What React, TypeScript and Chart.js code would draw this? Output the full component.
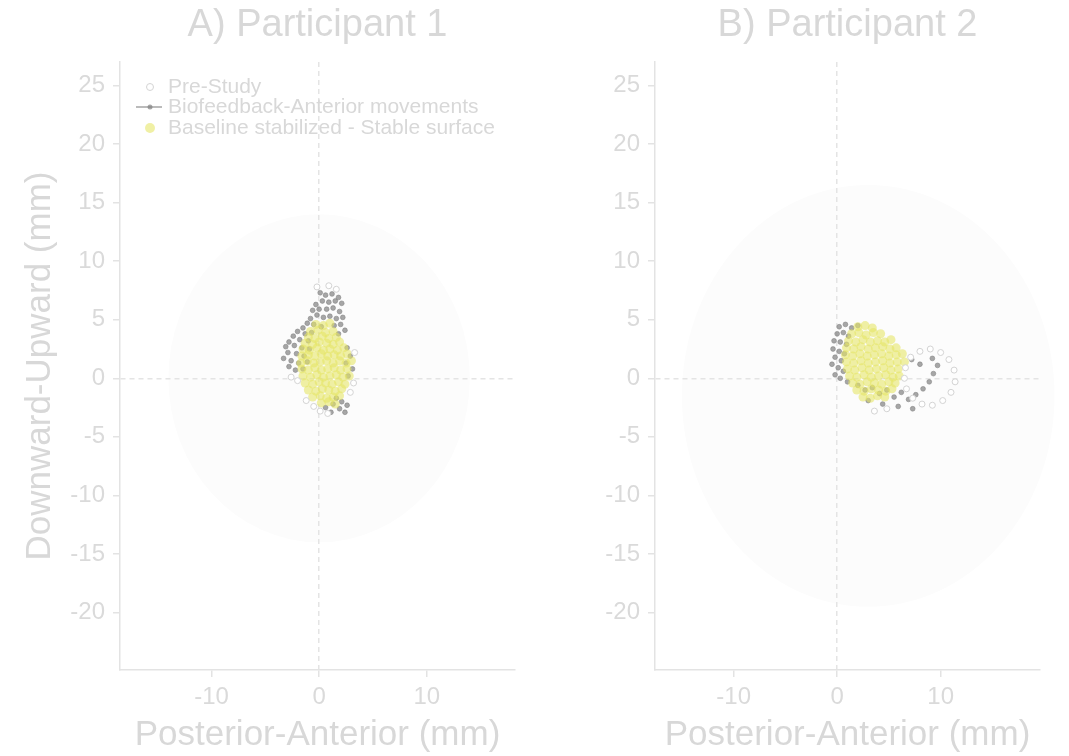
import React, { useEffect, useRef } from "react";
import { Chart, registerables } from "chart.js";
Chart.register(...registerables);

// ---------- text ----------
const panelTitles = ["A) Participant 1", "B) Participant 2"];
const xAxisTitle = "Posterior-Anterior (mm)";
const yAxisTitle = "Downward-Upward (mm)";
const seriesNames = ["Pre-Study", "Biofeedback-Anterior movements", "Baseline stabilized - Stable surface"];

// ---------- axes ----------
const yRange = [-24.9, 27];
const yStep = 5;
const xStep = 10;
const xRangeP1 = [-18.5, 18.2];
const xRangeP2 = [-17.6, 19.6];

// faint reference circles: [centerX, centerY, radius] in mm
const circleP1 = [0, 0, 14];
const circleP2 = [3, -1.5, 18];

// ---------- Participant 1 ----------
const p1PreStudy: [number, number][] = [
  [-0.5, -2.4], [0.1, -2.8], [0.8, -3.0], [-1.2, -1.9], [2.9, -1.2], [3.2, -0.4],
  [-0.2, 7.8], [0.9, 7.9], [1.6, 7.6], [-2.0, -0.2], [-2.6, 0.1], [3.3, 2.2],
];
const p1Biofeedback: [number, number][] = [
  [0.1, 7.3], [0.6, 7.1], [1.2, 7.2], [1.8, 6.9], [2.1, 6.4], [1.5, 6.6], [0.9, 6.5], [0.3, 6.6],
  [-0.3, 6.3], [-0.6, 5.8], [0.0, 5.9], [0.7, 5.9], [1.3, 6.0], [1.9, 5.7], [2.2, 5.2], [1.6, 5.1],
  [1.0, 5.3], [0.4, 5.2], [-0.2, 5.4], [-0.8, 5.1], [-1.1, 4.7], [-0.5, 4.6], [0.2, 4.4], [1.4, 4.5],
  [2.0, 4.6], [2.4, 4.1], [1.8, 3.8],
  [-1.5, 4.3], [-2.0, 4.0], [-1.3, 3.8], [-0.7, 3.9], [-2.4, 3.6], [-1.8, 3.3], [-1.0, 3.2],
  [-2.8, 3.1], [-3.1, 2.7], [-2.3, 2.8], [-1.6, 2.6], [-0.9, 2.5], [-2.9, 2.2], [-2.1, 2.1],
  [-1.4, 1.9], [-3.3, 1.7], [-2.6, 1.5], [-1.9, 1.3], [-1.1, 1.4], [-2.8, 1.0], [-2.2, 0.7], [-1.5, 0.8],
  [2.6, 2.6], [2.9, 1.9], [2.5, 1.3], [3.1, 0.8], [2.7, 0.2],
  [1.6, -1.7], [2.1, -2.0], [2.6, -2.3], [1.9, -2.6], [2.4, -2.9], [1.3, -2.2], [0.6, -2.5], [1.1, -2.9],
];
const p1Baseline: [number, number][] = [
  [-0.3, 4.6], [0.4, 4.5], [1.0, 4.7],
  [-0.8, 4.0], [-0.1, 4.1], [0.6, 3.9], [1.3, 4.0],
  [-1.0, 3.5], [-0.4, 3.4], [0.3, 3.6], [0.9, 3.4], [1.6, 3.5],
  [-1.3, 3.0], [-0.6, 2.9], [0.0, 3.1], [0.7, 3.0], [1.3, 2.9], [1.9, 3.1],
  [-1.5, 2.5], [-0.9, 2.4], [-0.2, 2.6], [0.4, 2.4], [1.0, 2.5], [1.7, 2.4], [2.3, 2.6],
  [-1.6, 1.9], [-1.0, 2.0], [-0.4, 1.9], [0.2, 2.1], [0.8, 1.9], [1.4, 2.0], [2.0, 1.9], [2.6, 2.1],
  [-1.7, 1.3], [-1.1, 1.5], [-0.5, 1.3], [0.1, 1.4], [0.7, 1.5], [1.3, 1.3], [1.9, 1.5], [2.5, 1.3], [3.0, 1.5],
  [-1.6, 0.8], [-1.0, 0.7], [-0.4, 0.9], [0.2, 0.7], [0.8, 0.8], [1.4, 0.9], [2.0, 0.7], [2.6, 0.8],
  [-1.5, 0.2], [-0.8, 0.1], [-0.2, 0.3], [0.4, 0.1], [1.0, 0.2], [1.6, 0.3], [2.2, 0.1], [2.8, 0.2],
  [-1.3, -0.4], [-0.6, -0.5], [0.0, -0.3], [0.6, -0.4], [1.2, -0.5], [1.8, -0.3], [2.4, -0.5],
  [-1.0, -1.0], [-0.3, -1.1], [0.3, -0.9], [0.9, -1.0], [1.5, -1.1], [2.1, -0.9],
  [-0.6, -1.6], [0.1, -1.5], [0.7, -1.7], [1.3, -1.6], [1.9, -1.5],
  [0.2, -2.1], [0.9, -2.0], [1.5, -2.2],
];

// ---------- Participant 2 ----------
const p2PreStudy: [number, number][] = [
  [6.6, 0.9], [7.1, 1.8], [8.0, 2.3], [9.0, 2.5], [10.0, 2.2], [10.8, 1.6], [11.3, 0.7], [11.4, -0.3],
  [11.0, -1.2], [10.2, -1.9], [9.2, -2.3], [8.2, -2.2], [7.3, -1.7], [6.7, -0.9], [6.5, 0.0],
  [4.8, -2.6], [3.6, -2.8],
];
const p2Biofeedback: [number, number][] = [
  [0.2, 4.4], [0.8, 4.6], [1.4, 4.3], [2.0, 4.5], [0.0, 3.8], [0.6, 3.9], [1.1, 3.6], [-0.3, 3.2],
  [0.3, 3.1], [0.9, 2.9], [-0.4, 2.5], [0.2, 2.3], [0.7, 2.1], [-0.2, 1.8], [0.4, 1.5], [-0.5, 1.2],
  [0.1, 0.9], [0.6, 0.6], [-0.2, 0.3], [0.3, 0.0], [1.0, -0.3],
  [2.0, -0.6], [2.7, -1.0], [3.4, -0.8], [4.1, -1.3], [4.8, -1.0], [5.5, -1.6], [6.2, -1.2], [6.9, -1.8],
  [7.6, -1.4], [8.3, -0.9], [8.9, -0.3], [9.3, 0.4], [9.7, 1.1], [3.0, -1.9], [4.4, -2.2], [5.9, -2.4],
  [7.3, -2.6], [7.2, 1.6], [8.0, 1.2], [9.2, 1.7],
];
const p2Baseline: [number, number][] = [
  [2.0, 4.4], [2.7, 4.5], [3.4, 4.3],
  [1.4, 3.8], [2.1, 3.9], [2.8, 3.7], [3.5, 3.9], [4.2, 3.8],
  [1.1, 3.2], [1.8, 3.1], [2.5, 3.3], [3.2, 3.1], [3.9, 3.2], [4.6, 3.1], [5.2, 3.3],
  [0.9, 2.6], [1.6, 2.5], [2.3, 2.7], [3.0, 2.5], [3.7, 2.6], [4.4, 2.7], [5.1, 2.5], [5.7, 2.6],
  [0.8, 2.0], [1.5, 1.9], [2.2, 2.1], [2.9, 1.9], [3.6, 2.0], [4.3, 2.1], [5.0, 1.9], [5.7, 2.0], [6.3, 2.1],
  [0.9, 1.4], [1.6, 1.3], [2.3, 1.5], [3.0, 1.3], [3.7, 1.4], [4.4, 1.5], [5.1, 1.3], [5.8, 1.4], [6.5, 1.4],
  [1.0, 0.8], [1.7, 0.7], [2.4, 0.9], [3.1, 0.7], [3.8, 0.8], [4.5, 0.9], [5.2, 0.7], [5.9, 0.8],
  [1.2, 0.2], [1.9, 0.1], [2.6, 0.3], [3.3, 0.1], [4.0, 0.2], [4.7, 0.3], [5.4, 0.1], [6.0, 0.2],
  [1.5, -0.4], [2.2, -0.5], [2.9, -0.3], [3.6, -0.4], [4.3, -0.5], [5.0, -0.3], [5.6, -0.4],
  [1.9, -1.0], [2.6, -1.1], [3.3, -0.9], [4.0, -1.0], [4.7, -1.1], [5.3, -0.9],
  [2.5, -1.6], [3.2, -1.7], [3.9, -1.5], [4.6, -1.6],
];

// ---------- styling ----------
const FONT = "'Liberation Sans', Arial, sans-serif";
const TEXT = "#d8d8d8";
const TICK_TEXT = "#dadada";
const AXIS = "#e3e3e3";
const PRE_FILL = "#ffffff";
const PRE_EDGE = "#d4d4d4";
const BIO_COLOR = "rgba(130,130,130,0.7)";
const BASE_COLOR = "rgba(230,230,100,0.58)";

const toPts = (arr: [number, number][]) => arr.map(([x, y]) => ({ x, y }));

const decorPlugin = {
  id: "decor",
  beforeDraw(chart: any, _a: any, opts: any) {
    const { ctx, scales } = chart;
    const xs = scales.x, ys = scales.y;
    const [cx, cy, r] = opts.circle;
    const px = xs.getPixelForValue(cx), py = ys.getPixelForValue(cy);
    const rx = Math.abs(xs.getPixelForValue(cx + r) - px);
    const ry = Math.abs(ys.getPixelForValue(cy + r) - py);
    ctx.save();
    ctx.beginPath();
    ctx.ellipse(px, py, rx, ry, 0, 0, Math.PI * 2);
    ctx.fillStyle = "#fcfcfc";
    ctx.fill();
    ctx.restore();
  },
  afterDraw(chart: any, _a: any, opts: any) {
    const { ctx, chartArea } = chart;
    const cx = (chartArea.left + chartArea.right) / 2;
    ctx.save();
    ctx.fillStyle = TEXT;
    ctx.textAlign = "center";
    ctx.textBaseline = "middle";
    ctx.font = `38px ${FONT}`;
    ctx.fillText(opts.title, cx, 26);
    ctx.font = `35px ${FONT}`;
    ctx.fillText(opts.xTitle, cx, 735);
    if (opts.yTitle) {
      ctx.save();
      ctx.translate(40, (chartArea.top + chartArea.bottom) / 2);
      ctx.rotate(-Math.PI / 2);
      ctx.fillText(opts.yTitle, 0, 0);
      ctx.restore();
    }
    if (opts.legend) {
      const rows = [87, 107, 128];
      const mx = chartArea.left + 30;
      const tx = chartArea.left + 48;
      ctx.font = `21px ${FONT}`;
      ctx.textAlign = "left";
      ctx.beginPath();
      ctx.arc(mx, rows[0], 3.5, 0, Math.PI * 2);
      ctx.fillStyle = PRE_FILL; ctx.fill();
      ctx.strokeStyle = PRE_EDGE; ctx.lineWidth = 1; ctx.stroke();
      ctx.beginPath();
      ctx.moveTo(chartArea.left + 16, rows[1]); ctx.lineTo(chartArea.left + 42, rows[1]);
      ctx.strokeStyle = "rgba(170,170,170,0.8)"; ctx.lineWidth = 2; ctx.stroke();
      ctx.beginPath();
      ctx.arc(mx, rows[1], 2.5, 0, Math.PI * 2);
      ctx.fillStyle = BIO_COLOR; ctx.fill();
      ctx.beginPath();
      ctx.arc(mx, rows[2], 5, 0, Math.PI * 2);
      ctx.fillStyle = BASE_COLOR; ctx.fill();
      ctx.fillStyle = TEXT;
      seriesNames.forEach((name, i) => ctx.fillText(name, tx, rows[i]));
    }
    ctx.restore();
  },
};

function makeConfig(
  idx: number,
  pre: [number, number][],
  bio: [number, number][],
  base: [number, number][],
  xRange: number[],
  circle: number[],
  rightPad: number
): any {
  const gridColor = (c: any) => (c.tick && c.tick.value === 0 ? "#e4e4e4" : "rgba(0,0,0,0)");
  return {
    type: "scatter",
    data: {
      datasets: [
        { label: seriesNames[0], data: toPts(pre), order: 0, backgroundColor: PRE_FILL,
          borderColor: PRE_EDGE, borderWidth: 1, pointRadius: 3 },
        { label: seriesNames[1], data: toPts(bio), order: 2, backgroundColor: BIO_COLOR,
          borderColor: BIO_COLOR, borderWidth: 0.8, pointRadius: 2.4 },
        { label: seriesNames[2], data: toPts(base), order: 1, backgroundColor: BASE_COLOR,
          borderColor: BASE_COLOR, borderWidth: 0, pointRadius: 4.5 },
      ],
    },
    options: {
      responsive: false,
      animation: false,
      devicePixelRatio: 1,
      layout: { padding: { top: 62, right: rightPad, left: 0, bottom: 0 } },
      scales: {
        x: {
          type: "linear", position: "bottom", min: xRange[0], max: xRange[1],
          afterFit: (s: any) => { s.height = 86; },
          ticks: { stepSize: xStep, includeBounds: false, color: TICK_TEXT,
            font: { size: 24, family: FONT }, padding: 6, maxRotation: 0 },
          grid: { color: gridColor, lineWidth: 1.5, tickColor: AXIS, tickLength: 7 },
          border: { display: true, color: AXIS, width: 1.5, dash: [5, 4] },
        },
        y: {
          type: "linear", position: "left", min: yRange[0], max: yRange[1],
          afterFit: (s: any) => { s.width = 120; },
          ticks: { stepSize: yStep, includeBounds: false, color: TICK_TEXT,
            font: { size: 24, family: FONT }, padding: 8 },
          grid: { color: gridColor, lineWidth: 1.5, tickColor: AXIS, tickLength: 7 },
          border: { display: true, color: AXIS, width: 1.5, dash: [5, 4] },
        },
      },
      plugins: {
        tooltip: { enabled: false },
        title: { display: false },
        legend: { display: false },
        decor: {
          title: panelTitles[idx],
          xTitle: xAxisTitle,
          yTitle: idx === 0 ? yAxisTitle : "",
          legend: idx === 0,
          circle,
        },
      },
    },
    plugins: [decorPlugin],
  };
}

export default function App() {
  const leftRef = useRef<HTMLCanvasElement>(null);
  const rightRef = useRef<HTMLCanvasElement>(null);

  useEffect(() => {
    const c1 = new Chart(leftRef.current as HTMLCanvasElement,
      makeConfig(0, p1PreStudy, p1Biofeedback, p1Baseline, xRangeP1, circleP1, 25));
    const c2 = new Chart(rightRef.current as HTMLCanvasElement,
      makeConfig(1, p2PreStudy, p2Biofeedback, p2Baseline, xRangeP2, circleP2, 29));
    return () => { c1.destroy(); c2.destroy(); };
  }, []);

  return (
    <div style={{ position: "absolute", left: 0, top: 0, width: 1069, height: 756, background: "#ffffff" }}>
      <canvas ref={leftRef} width={540} height={756}
        style={{ position: "absolute", left: 0, top: 0, width: 540, height: 756 }} />
      <canvas ref={rightRef} width={534} height={756}
        style={{ position: "absolute", left: 535, top: 0, width: 534, height: 756 }} />
    </div>
  );
}
